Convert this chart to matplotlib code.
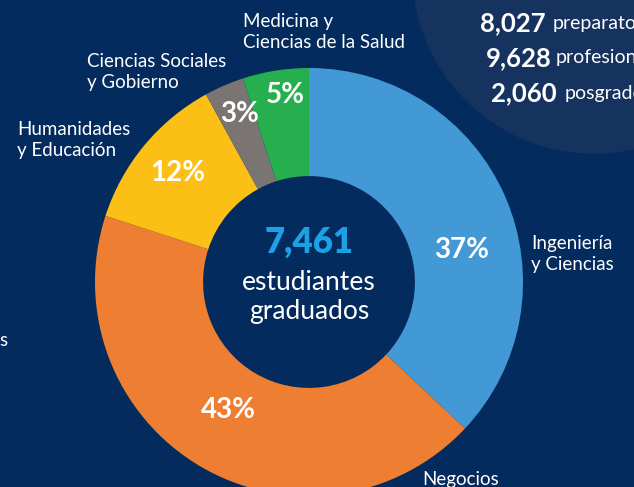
import matplotlib.pyplot as plt
from matplotlib.patches import Circle

# data
areas = ["Ingeniería\ny Ciencias", "Negocios", "Humanidades\ny Educación",
         "Ciencias Sociales\ny Gobierno", "Medicina y\nCiencias de la Salud"]
shares = [37, 43, 12, 3, 5]
colors = ["#4399d5", "#ee7f32", "#fbbf16", "#7a7473", "#27ae4f"]
total_grads = "7,461"
side_nums = ["8,027", "9,628", "2,060"]
side_words = ["preparatoria", "profesional", "posgrado"]

W, H = 634, 487
bg = "#032b5e"
plt.rcParams['font.family'] = ['Lato', 'DejaVu Sans']

fig = plt.figure(figsize=(W / 100, H / 100), dpi=100, facecolor=bg)
ax = fig.add_axes([0, 0, 1, 1])
ax.set_facecolor(bg)

def Y(y):
    return H - y

# top-right bubble
ax.add_patch(Circle((594, Y(-28)), 181, color="#16325e", zorder=0))

cx, cy, R = 309, Y(282), 214
ax.pie(shares, colors=colors, startangle=90, counterclock=False,
       center=(cx, cy), radius=R, wedgeprops=dict(width=R * 0.505, linewidth=0))

ax.set_xlim(0, W)
ax.set_ylim(0, H)
ax.set_aspect('equal')
ax.axis('off')

# percent labels
pct_pos = [(462, 250), (228, 410), (178, 173), (240, 114), (285, 95)]
for v, (x, y) in zip(shares, pct_pos):
    ax.text(x, Y(y), f"{v}%", color="white", fontsize=20, fontweight='bold',
            ha='center', va='center')

# category labels
lab_pos = [(531, 254), (422, 480), (17, 140), (87, 72), (243, 32)]
for name, (x, y) in zip(areas, lab_pos):
    ax.text(x, Y(y), name, color="white", fontsize=13.5, ha='left', va='center',
            linespacing=1.35)
ax.text(-1, Y(340), "s", color="white", fontsize=13.5, ha='left', va='center')

# center text
ax.text(cx, Y(242), total_grads, color="#1ca0e6", fontsize=25, fontweight='heavy',
        ha='center', va='center')
ax.text(cx, Y(282), "estudiantes", color="white", fontsize=19,
        ha='center', va='center')
ax.text(cx, Y(312), "graduados", color="white", fontsize=19,
        ha='center', va='center')

# side figures
num_x = [480, 486, 491]
word_x = [553, 556, 565]
for i, (n, w) in enumerate(zip(side_nums, side_words)):
    yy = Y(23 + 35 * i)
    ax.text(num_x[i], yy, n, color="white", fontsize=18.5, fontweight='bold',
            ha='left', va='center')
    ax.text(word_x[i], yy, w, color="white", fontsize=14, ha='left', va='center')

fig.savefig("out.png", dpi=100, facecolor=bg)
